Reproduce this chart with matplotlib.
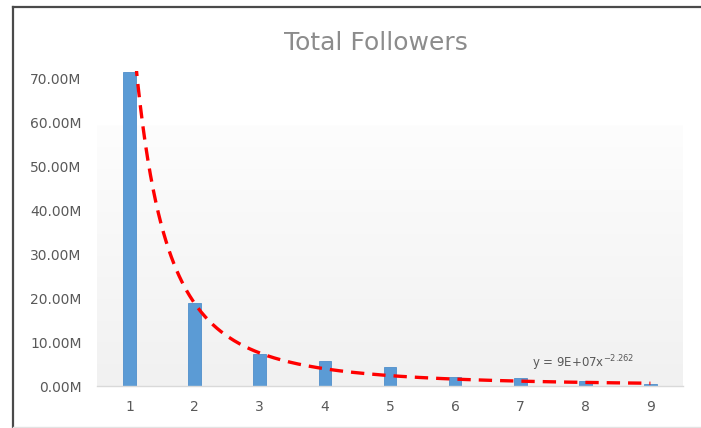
import numpy as np
import matplotlib
matplotlib.use("Agg")
import matplotlib.pyplot as plt
from matplotlib.lines import Line2D

# Data
ranks = [1, 2, 3, 4, 5, 6, 7, 8, 9]
followers = [71.4e6, 18.9e6, 7.3e6, 5.75e6, 4.25e6, 2.0e6, 1.75e6, 1.2e6, 0.45e6]
y_ticks = [0, 10e6, 20e6, 30e6, 40e6, 50e6, 60e6, 70e6]
trend_coef = 9e7
trend_exp = -2.262
title = "Total Followers"

W, H = 701, 428
fig = plt.figure(figsize=(W / 100, H / 100), dpi=100)
fig.patch.set_facecolor("white")

# outer frame lines
fig.add_artist(Line2D([13 / W, 1], [1 - 7 / H, 1 - 7 / H], transform=fig.transFigure,
                      color="#4a4a4a", lw=1.6))
fig.add_artist(Line2D([13 / W, 13 / W], [0, 1 - 7 / H], transform=fig.transFigure,
                      color="#4a4a4a", lw=1.6))
fig.add_artist(Line2D([13 / W, 1], [1 / H, 1 / H], transform=fig.transFigure,
                      color="#e3e3e3", lw=1.0))

left, right = 97 / W, 683 / W
bottom, top = (H - 386) / H, (H - 71.4) / H
ax = fig.add_axes([left, bottom, right - left, top - bottom])
ax.set_xlim(0.5, 9.5)
ax.set_ylim(0, 71.5e6)
ax.set_facecolor("none")

# soft vertical gradient behind the bars
grad = np.linspace(0, 1, 256).reshape(-1, 1)
ax.imshow(grad, extent=[0.5, 9.5, 0, 59.3e6], aspect="auto", origin="lower",
          cmap=matplotlib.colors.LinearSegmentedColormap.from_list(
              "g", ["#f1f1f1", "#fdfdfd"]), zorder=0)

ax.bar(ranks, followers, width=0.195, color="#5b9bd5", edgecolor="#4f8fcb",
       linewidth=0.6, zorder=2)

# power-law trendline
xs = np.linspace(1, 9, 400)
ax.plot(xs, trend_coef * xs ** trend_exp, color="#ff0000", lw=2.4,
        dashes=(4.0, 2.4), zorder=3, solid_capstyle="butt")

ax.text(7.18, 4.3e6, r"y = 9E+07x$^{-2.262}$", fontsize=8.5, color="#595959",
        va="baseline", ha="left", zorder=4)

for s in ["top", "right", "left"]:
    ax.spines[s].set_visible(False)
ax.spines["bottom"].set_color("#d9d9d9")
ax.spines["bottom"].set_linewidth(1.0)

ax.set_xticks(ranks)
ax.set_xticklabels([str(r) for r in ranks])
ax.set_yticks(y_ticks)
ax.set_yticklabels([f"{v / 1e6:.2f}M" for v in y_ticks])
ax.tick_params(axis="both", length=0, labelsize=10, colors="#595959")
ax.tick_params(axis="y", pad=11)
ax.tick_params(axis="x", pad=10)

fig.text(376 / W, 1 - 43 / H, title, ha="center", va="center", fontsize=18,
         color="#8c8c8c")

fig.savefig("out.png", dpi=100)
